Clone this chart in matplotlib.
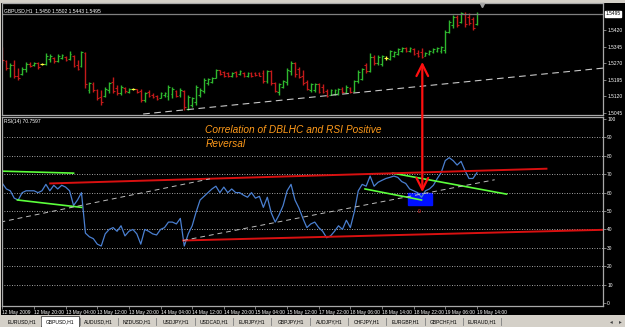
import matplotlib.pyplot as plt
from matplotlib.patches import Rectangle, ConnectionPatch
from matplotlib.transforms import blended_transform_factory

plt.rcParams["font.family"] = ["Liberation Sans", "DejaVu Sans"]

# GBPUSD H1 - barras (abertura, maxima, minima, fechamento)
abertura = [1.5330, 1.5283, 1.5250, 1.5262, 1.5215, 1.5222, 1.5245, 1.5268, 1.5262, 1.5272,
            1.5266, 1.5266, 1.5290, 1.5295, 1.5282, 1.5295, 1.5300, 1.5290, 1.5305, 1.5262,
            1.5258, 1.5318, 1.5150, 1.5178, 1.5150, 1.5118, 1.5120, 1.5150, 1.5185, 1.5160,
            1.5135, 1.5160, 1.5142, 1.5154, 1.5152, 1.5145, 1.5105, 1.5140, 1.5128, 1.5120,
            1.5115, 1.5125, 1.5120, 1.5130, 1.5145, 1.5125, 1.5145, 1.5065, 1.5080, 1.5095,
            1.5125, 1.5145, 1.5180, 1.5185, 1.5206, 1.5238, 1.5230, 1.5228, 1.5213, 1.5230,
            1.5220, 1.5228, 1.5213, 1.5228, 1.5225, 1.5226, 1.5225, 1.5190, 1.5235, 1.5180,
            1.5140, 1.5165, 1.5185, 1.5235, 1.5270, 1.5245, 1.5215, 1.5185, 1.5150, 1.5150,
            1.5175, 1.5165, 1.5145, 1.5128, 1.5132, 1.5134, 1.5155, 1.5140, 1.5160, 1.5145,
            1.5188, 1.5200, 1.5262, 1.5236, 1.5300, 1.5270, 1.5268, 1.5295, 1.5292, 1.5305,
            1.5315, 1.5325, 1.5340, 1.5326, 1.5336, 1.5316, 1.5320, 1.5305, 1.5312, 1.5322,
            1.5328, 1.5325, 1.5330, 1.5415, 1.5445, 1.5482, 1.5460, 1.5495, 1.5480, 1.5470,
            1.5450]
maxima = [1.5345, 1.5286, 1.5272, 1.5286, 1.5249, 1.5254, 1.5277, 1.5277, 1.5277, 1.5277,
          1.5272, 1.5318, 1.5313, 1.5299, 1.5313, 1.5313, 1.5304, 1.5327, 1.5308, 1.5286,
          1.5327, 1.5322, 1.5186, 1.5186, 1.5154, 1.5149, 1.5163, 1.5186, 1.5208, 1.5172,
          1.5172, 1.5163, 1.5158, 1.5158, 1.5154, 1.5154, 1.5140, 1.5149, 1.5136, 1.5126,
          1.5140, 1.5140, 1.5172, 1.5163, 1.5149, 1.5158, 1.5149, 1.5126, 1.5117, 1.5172,
          1.5158, 1.5204, 1.5204, 1.5208, 1.5245, 1.5240, 1.5236, 1.5231, 1.5231, 1.5236,
          1.5240, 1.5231, 1.5231, 1.5231, 1.5231, 1.5231, 1.5240, 1.5240, 1.5240, 1.5186,
          1.5181, 1.5195, 1.5249, 1.5281, 1.5277, 1.5254, 1.5240, 1.5195, 1.5181, 1.5181,
          1.5181, 1.5177, 1.5154, 1.5154, 1.5154, 1.5158, 1.5163, 1.5172, 1.5163, 1.5195,
          1.5240, 1.5249, 1.5272, 1.5318, 1.5308, 1.5308, 1.5308, 1.5304, 1.5331, 1.5327,
          1.5340, 1.5345, 1.5345, 1.5345, 1.5340, 1.5331, 1.5340, 1.5322, 1.5331, 1.5340,
          1.5345, 1.5349, 1.5422, 1.5468, 1.5490, 1.5490, 1.5504, 1.5504, 1.5500, 1.5481,
          1.5502]
minima = [1.5272, 1.5240, 1.5208, 1.5204, 1.5195, 1.5217, 1.5231, 1.5254, 1.5258, 1.5245,
          1.5263, 1.5263, 1.5277, 1.5272, 1.5277, 1.5290, 1.5281, 1.5286, 1.5254, 1.5240,
          1.5254, 1.5158, 1.5136, 1.5140, 1.5104, 1.5081, 1.5117, 1.5136, 1.5136, 1.5126,
          1.5126, 1.5136, 1.5136, 1.5149, 1.5136, 1.5095, 1.5095, 1.5117, 1.5113, 1.5104,
          1.5113, 1.5117, 1.5104, 1.5113, 1.5117, 1.5117, 1.5058, 1.5058, 1.5072, 1.5081,
          1.5117, 1.5136, 1.5172, 1.5181, 1.5204, 1.5217, 1.5208, 1.5208, 1.5208, 1.5208,
          1.5217, 1.5208, 1.5208, 1.5208, 1.5213, 1.5213, 1.5181, 1.5181, 1.5172, 1.5140,
          1.5126, 1.5158, 1.5172, 1.5217, 1.5208, 1.5204, 1.5172, 1.5149, 1.5140, 1.5140,
          1.5136, 1.5136, 1.5117, 1.5126, 1.5126, 1.5126, 1.5136, 1.5136, 1.5136, 1.5140,
          1.5181, 1.5195, 1.5227, 1.5231, 1.5263, 1.5263, 1.5258, 1.5286, 1.5286, 1.5299,
          1.5308, 1.5322, 1.5322, 1.5322, 1.5308, 1.5299, 1.5295, 1.5304, 1.5308, 1.5318,
          1.5322, 1.5318, 1.5318, 1.5409, 1.5431, 1.5436, 1.5454, 1.5436, 1.5445, 1.5422,
          1.5443]
fechamento = [1.5285, 1.5250, 1.5262, 1.5215, 1.5205, 1.5245, 1.5268, 1.5258, 1.5272, 1.5256,
              1.5266, 1.5305, 1.5305, 1.5280, 1.5305, 1.5308, 1.5285, 1.5315, 1.5260, 1.5245,
              1.5320, 1.5175, 1.5180, 1.5150, 1.5115, 1.5095, 1.5155, 1.5180, 1.5145, 1.5135,
              1.5165, 1.5145, 1.5154, 1.5154, 1.5140, 1.5105, 1.5135, 1.5122, 1.5117, 1.5108,
              1.5135, 1.5136, 1.5165, 1.5155, 1.5122, 1.5150, 1.5070, 1.5118, 1.5112, 1.5165,
              1.5150, 1.5195, 1.5200, 1.5204, 1.5238, 1.5222, 1.5213, 1.5215, 1.5227, 1.5213,
              1.5236, 1.5213, 1.5227, 1.5215, 1.5216, 1.5215, 1.5190, 1.5235, 1.5180, 1.5145,
              1.5175, 1.5190, 1.5240, 1.5272, 1.5222, 1.5210, 1.5180, 1.5155, 1.5175, 1.5176,
              1.5142, 1.5140, 1.5122, 1.5150, 1.5148, 1.5152, 1.5140, 1.5165, 1.5142, 1.5188,
              1.5232, 1.5245, 1.5235, 1.5300, 1.5270, 1.5300, 1.5302, 1.5295, 1.5325, 1.5322,
              1.5335, 1.5340, 1.5326, 1.5340, 1.5314, 1.5304, 1.5300, 1.5318, 1.5327, 1.5336,
              1.5340, 1.5345, 1.5415, 1.5460, 1.5482, 1.5445, 1.5498, 1.5450, 1.5455, 1.5430,
              1.5495]

# RSI(14)
rsi = [65, 62, 61, 57, 56, 60, 61, 61, 61, 60,
       61, 64.5, 61, 64, 62, 64, 63, 61, 53, 56,
       60, 38, 36, 35, 32, 31, 37.6, 40, 41, 39,
       42, 36.5, 39, 40, 37.6, 32, 40, 39, 37.6, 37,
       40, 41, 44, 44, 43, 46, 31, 37.6, 42, 49.5,
       56, 58, 60, 62, 63.5, 60, 63, 60, 62, 60,
       60, 58.6, 57.5, 60, 57, 58, 52, 57.5, 49, 44,
       48, 53, 61, 64.5, 56, 51.6, 46, 41, 43, 44,
       41, 39, 35.5, 36.5, 39, 42, 40, 45, 41, 49.5,
       61, 64.5, 63.5, 69, 63.5, 65.6, 66.7, 67.7, 68.3, 69,
       68.3, 66, 65, 62, 61, 60, 57.5, 61, 62, 64,
       67.7, 71, 77.4, 79, 77.4, 75, 77, 72, 67.7, 67.7,
       70.76]

precos_eixo = [1.5045, 1.5120, 1.5195, 1.5270, 1.5345, 1.5420]
preco_atual = 1.5495
niveis_rsi = [10, 20, 30, 40, 50, 60, 70, 80, 90]

pos_tempo = [0, 8, 16, 24, 32, 40, 48, 56, 64, 72, 80, 88, 96, 104, 112, 120]
rotulos_tempo = ["12 May 2009", "12 May 20:00", "13 May 04:00", "13 May 12:00",
                 "13 May 20:00", "14 May 04:00", "14 May 12:00", "14 May 20:00",
                 "15 May 04:00", "15 May 12:00", "17 May 22:00", "18 May 06:00",
                 "18 May 14:00", "18 May 22:00", "19 May 06:00", "19 May 14:00"]

abas = ["EURUSD,H1", "GBPUSD,H1", "AUDUSD,H1", "NZDUSD,H1", "USDJPY,H1", "USDCAD,H1",
        "EURJPY,H1", "GBPJPY,H1", "AUDJPY,H1", "CHFJPY,H1", "EURGBP,H1", "GBPCHF,H1",
        "EURAUD,H1"]

# linhas de tendencia: (barra inicial, valor inicial, barra final, valor final)
tend_preco = (35.6, 1.5040, 152.0, 1.5249)
verde_1 = (-0.5, 71.7, 18.0, 70.6)
verde_2 = (3.8, 56.0, 20.0, 52.0)
verde_3 = (91.7, 62.0, 106.0, 56.0)
verde_4 = (98.7, 70.6, 127.5, 59.2)
vermelha_alta = (12.1, 65.0, 137.6, 73.0)
vermelha_baixa = (45.7, 34.0, 152.0, 39.8)
cinza_1 = (-0.5, 44.0, 52.5, 67.5)
cinza_2 = (45.7, 34.0, 124.5, 67.0)

W, H = 625, 327


def caixa(x0, y0, x1, y1):
    return [x0 / W, 1 - y1 / H, (x1 - x0) / W, (y1 - y0) / H]


fig = plt.figure(figsize=(6.25, 3.27), dpi=100, facecolor="#d4d0c8")

fundo = fig.add_axes(caixa(1, 3, 625, 315), facecolor="black")
fundo.set_xticks([])
fundo.set_yticks([])
for s in fundo.spines.values():
    s.set_visible(False)

ax1 = fig.add_axes(caixa(2, 3, 603, 115), facecolor="black")
ax2 = fig.add_axes(caixa(2, 117, 603, 306), facecolor="black")

for ax in (ax1, ax2):
    for s in ax.spines.values():
        s.set_color("#a8a8a8")
        s.set_linewidth(0.9)
    ax.set_xlim(-0.1, 151.9)
    ax.yaxis.tick_right()
    ax.tick_params(axis="y", colors="#b0b0b0", labelcolor="white", labelsize=3.5,
                   length=2, width=0.5, pad=1)

# --- painel de precos ---
idx = list(range(len(fechamento)))
cores = ["#2eb82e" if c > o else "#c41a1a" if c < o else "#ffff40"
         for o, c in zip(abertura, fechamento)]
ax1.vlines(idx, minima, maxima, colors=cores, linewidth=1.0)
ax1.hlines(abertura, [i - 0.45 for i in idx], idx, colors=cores, linewidth=0.8)
ax1.hlines(fechamento, idx, [i + 0.45 for i in idx], colors=cores, linewidth=0.8)

ax1.axhline(preco_atual, color="#808080", linewidth=0.9)
ax1.plot([tend_preco[0], tend_preco[2]], [tend_preco[1], tend_preco[3]],
         color="#c8c8c8", linewidth=0.8, linestyle=(0, (6, 4)))

ax1.set_ylim(1.50355, 1.5545)
ax1.set_yticks(precos_eixo)
ax1.set_yticklabels([f"{p:.4f}" for p in precos_eixo])
ax1.set_xticks([])
trans1 = blended_transform_factory(ax1.transAxes, ax1.transData)
ax1.text(1.004, preco_atual, f"{preco_atual:.4f}", transform=trans1, fontsize=3.5,
         color="black", va="center", ha="left",
         bbox=dict(facecolor="white", edgecolor="white", pad=0.6))
ax1.text(0.004, 0.955, "GBPUSD,H1  1.5450 1.5502 1.5443 1.5495", transform=ax1.transAxes,
         fontsize=3.6, color="white", va="top", ha="left")
ax1.plot([121.3], [0.985], marker="v", markersize=3, color="#a0a0a0", clip_on=False,
         transform=blended_transform_factory(ax1.transData, ax1.transAxes))

# --- painel RSI ---
ax2.hlines(niveis_rsi, -1, 153, colors="#d8d8d8", linewidth=0.6, linestyle=(0, (1, 2)))
ax2.plot(idx, rsi, color="#4a7fd0", linewidth=0.9)

for lin, cor, lw in [(verde_1, "#5cff3c", 1.2), (verde_2, "#5cff3c", 1.2),
                     (verde_3, "#5cff3c", 1.2), (verde_4, "#5cff3c", 1.2),
                     (vermelha_alta, "#d81010", 1.4), (vermelha_baixa, "#d81010", 1.4)]:
    ax2.plot([lin[0], lin[2]], [lin[1], lin[3]], color=cor, linewidth=lw)
for lin in (cinza_1, cinza_2):
    ax2.plot([lin[0], lin[2]], [lin[1], lin[3]], color="#bdbdbd", linewidth=0.7,
             linestyle=(0, (5, 4)))

ax2.add_patch(Rectangle((102.5, 53.2), 6.1, 6.5, facecolor="#0010ff", edgecolor="#0010ff"))
ax2.text(105.5, 50, "0", color="#ff2020", fontsize=3.5, ha="center", va="center")

ax2.text(51.3, 96.7, "Correlation of DBLHC and RSI Positive\nReversal", color="#ff9a1a",
         fontsize=7.3, style="italic", ha="left", va="top", linespacing=1.45)
ax2.text(0.004, 0.99, "RSI(14) 70.7597", transform=ax2.transAxes, fontsize=3.6,
         color="white", va="top", ha="left")

ax2.set_ylim(-1.6, 101.1)
ax2.set_yticks(list(range(0, 101, 10)))
ax2.set_xticks(pos_tempo)
ax2.set_xticklabels(rotulos_tempo, ha="left")
ax2.tick_params(axis="x", colors="#b0b0b0", labelcolor="white", labelsize=3.5,
                length=2, width=0.5, pad=1)

# seta vermelha entre os paineis
seta = ConnectionPatch(xyA=(106.2, 60.3), coordsA=ax2.transData,
                       xyB=(106.2, 1.5277), coordsB=ax1.transData,
                       arrowstyle="<->,head_length=0.7,head_width=0.35",
                       mutation_scale=12, color="#ff1010", linewidth=1.6)
fig.add_artist(seta)

# --- abas dos graficos ---
for k, nome in enumerate(abas):
    xc = 22 + 38.35 * k
    if k == 1:
        fig.add_artist(Rectangle(((xc - 19) / W, 1 - 327 / H), 38 / W, 11 / H,
                                 transform=fig.transFigure, facecolor="white",
                                 edgecolor="#404040", linewidth=0.6))
    fig.text(xc / W, 1 - 321.5 / H, nome, fontsize=3.6, color="black",
             ha="center", va="center")
    xs = xc + 19.2
    fig.add_artist(plt.Line2D([xs / W, xs / W], [1 - 325 / H, 1 - 318 / H],
                              color="#808080", linewidth=0.6))
fig.text(611 / W, 1 - 321.5 / H, "\u25c2", fontsize=4, color="#404040", ha="center",
         va="center", family="DejaVu Sans")
fig.text(620 / W, 1 - 321.5 / H, "\u25b8", fontsize=4, color="#404040", ha="center",
         va="center", family="DejaVu Sans")

fig.savefig("out.png", dpi=100, facecolor=fig.get_facecolor())
